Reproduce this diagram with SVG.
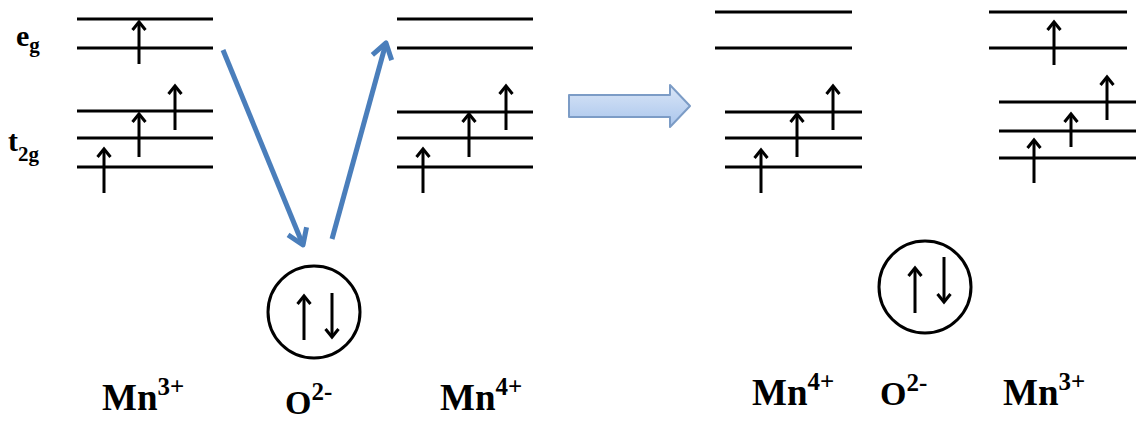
<svg xmlns="http://www.w3.org/2000/svg" width="1137" height="421" viewBox="0 0 1137 421">
<style>
.lvl{stroke:#000;stroke-width:3;fill:none}
.spin{stroke:#000;stroke-width:3;fill:none;marker-end:url(#ah)}
.orb{stroke:#000;stroke-width:3;fill:none}
.lbl{font-family:'Liberation Serif','DejaVu Serif',serif;font-weight:bold;fill:#000}
.blue{stroke:#4a7ebb;stroke-width:5;fill:none;marker-end:url(#bh)}
</style>
<defs>
<marker id="ah" markerUnits="userSpaceOnUse" viewBox="-10 -9 13 18" markerWidth="13" markerHeight="18" refX="0" refY="0" orient="auto">
<path d="M-8,-6.5 L0,0 L-8,6.5" fill="none" stroke="#000" stroke-width="3"/>
</marker>
<marker id="bh" markerUnits="userSpaceOnUse" viewBox="-18 -14 22 28" markerWidth="22" markerHeight="28" refX="0" refY="0" orient="auto">
<path d="M-15,-10 L0,0 L-15,10" fill="none" stroke="#4a7ebb" stroke-width="5" stroke-linejoin="round"/>
</marker>
<linearGradient id="bg" x1="0" y1="0" x2="0" y2="1">
<stop offset="0" stop-color="#dae6f7"/>
<stop offset="1" stop-color="#a9c5ec"/>
</linearGradient>
</defs>

<g id="axis-labels">
<text class="lbl" font-family="Liberation Serif, serif" x="16" y="46" font-size="30">e<tspan font-size="21" dy="6">g</tspan></text>
<text class="lbl" font-family="Liberation Serif, serif" x="8" y="151" font-size="30">t<tspan font-size="21" dy="10">2g</tspan></text>
</g>

<g id="mn3-left">
<line class="lvl" x1="77" y1="19" x2="213" y2="19"/>
<line class="lvl" x1="77" y1="48" x2="213" y2="48"/>
<line class="lvl" x1="77" y1="111" x2="213" y2="111"/>
<line class="lvl" x1="77" y1="138" x2="213" y2="138"/>
<line class="lvl" x1="77" y1="167" x2="213" y2="167"/>
<line class="spin" x1="139" y1="64" x2="139" y2="22"/>
<line class="spin" x1="104" y1="193" x2="104" y2="149"/>
<line class="spin" x1="139" y1="157" x2="139" y2="114"/>
<line class="spin" x1="175" y1="130" x2="175" y2="86"/>
<text class="lbl" font-family="Liberation Serif, serif" x="102" y="410" font-size="37">Mn<tspan font-size="25" dy="-15">3+</tspan></text>
</g>

<g id="o2-left">
<circle class="orb" cx="314" cy="312" r="46"/>
<line class="spin" x1="304" y1="340" x2="304" y2="296"/>
<line class="spin" x1="332" y1="293" x2="332" y2="337"/>
<text class="lbl" font-family="Liberation Serif, serif" x="285" y="414" font-size="34">O<tspan font-size="25" dy="-14">2-</tspan></text>
</g>

<g id="mn4-middle">
<line class="lvl" x1="397" y1="19" x2="533" y2="19"/>
<line class="lvl" x1="397" y1="48" x2="533" y2="48"/>
<line class="lvl" x1="397" y1="112" x2="533" y2="112"/>
<line class="lvl" x1="397" y1="138" x2="533" y2="138"/>
<line class="lvl" x1="397" y1="167" x2="533" y2="167"/>
<line class="spin" x1="423" y1="193" x2="423" y2="149"/>
<line class="spin" x1="469" y1="157" x2="469" y2="114"/>
<line class="spin" x1="506" y1="130" x2="506" y2="86"/>
<text class="lbl" font-family="Liberation Serif, serif" x="440" y="410" font-size="37">Mn<tspan font-size="25" dy="-15">4+</tspan></text>
</g>

<g id="mn4-right">
<line class="lvl" x1="715" y1="12" x2="852" y2="12"/>
<line class="lvl" x1="715" y1="48" x2="852" y2="48"/>
<line class="lvl" x1="725" y1="112" x2="862" y2="112"/>
<line class="lvl" x1="725" y1="138" x2="862" y2="138"/>
<line class="lvl" x1="725" y1="167" x2="862" y2="167"/>
<line class="spin" x1="761" y1="193" x2="761" y2="150"/>
<line class="spin" x1="797" y1="157" x2="797" y2="114"/>
<line class="spin" x1="833" y1="130" x2="833" y2="86"/>
<text class="lbl" font-family="Liberation Serif, serif" x="752" y="405" font-size="37">Mn<tspan font-size="25" dy="-15">4+</tspan></text>
</g>

<g id="o2-right">
<circle class="orb" cx="925" cy="287" r="46"/>
<line class="spin" x1="915" y1="313" x2="915" y2="268"/>
<line class="spin" x1="944" y1="257" x2="944" y2="302"/>
<text class="lbl" font-family="Liberation Serif, serif" x="880" y="405" font-size="34">O<tspan font-size="25" dy="-14">2-</tspan></text>
</g>

<g id="mn3-right">
<line class="lvl" x1="989" y1="12" x2="1127" y2="12"/>
<line class="lvl" x1="989" y1="48" x2="1127" y2="48"/>
<line class="lvl" x1="999" y1="102" x2="1136" y2="102"/>
<line class="lvl" x1="999" y1="131" x2="1136" y2="131"/>
<line class="lvl" x1="999" y1="158" x2="1136" y2="158"/>
<line class="spin" x1="1054" y1="65" x2="1054" y2="22"/>
<line class="spin" x1="1034" y1="183" x2="1034" y2="140"/>
<line class="spin" x1="1071" y1="147" x2="1071" y2="114"/>
<line class="spin" x1="1107" y1="120" x2="1107" y2="77"/>
<text class="lbl" font-family="Liberation Serif, serif" x="1003" y="405" font-size="37">Mn<tspan font-size="25" dy="-15">3+</tspan></text>
</g>

<g id="connectors">
<line class="blue" x1="223" y1="50" x2="303" y2="245"/>
<line class="blue" x1="332" y1="239" x2="386" y2="43"/>
<path d="M569,95 L670,95 L670,85 L690,106 L670,127 L670,117 L569,117 Z" fill="url(#bg)" stroke="#7c9cc6" stroke-width="2" stroke-linejoin="round"/>
</g>
</svg>
